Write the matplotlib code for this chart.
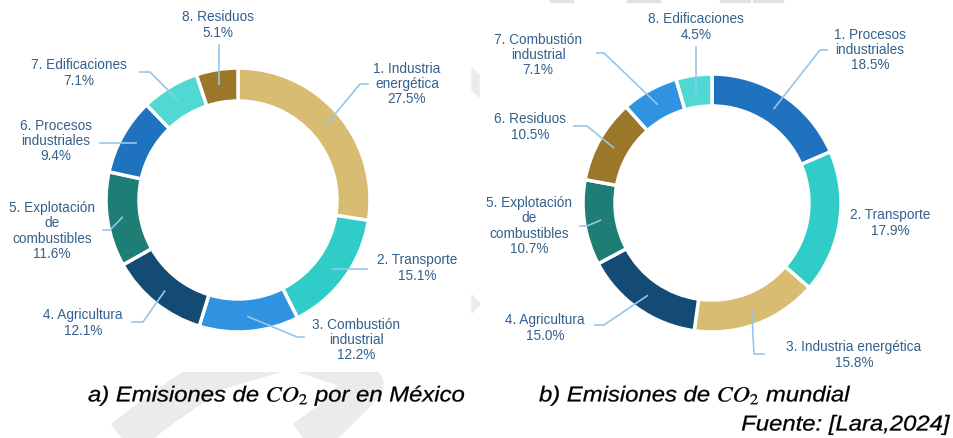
import numpy as np
import matplotlib.pyplot as plt
from matplotlib.textpath import TextPath
from matplotlib.font_manager import FontProperties
from matplotlib.patches import PathPatch, Polygon, Rectangle
from matplotlib.transforms import Affine2D

plt.rcParams['font.family'] = ['Liberation Sans', 'DejaVu Sans']
plt.rcParams['mathtext.fontset'] = 'stix'

W, H = 954, 438

# --- datos ---
mx_labels = ["1. Industria\nenergética", "2. Transporte", "3. Combustión\nindustrial",
             "4. Agricultura", "5. Explotación\nde\ncombustibles", "6. Procesos\nindustriales",
             "7. Edificaciones", "8. Residuos"]
mx_values = [27.5, 15.1, 12.2, 12.1, 11.6, 9.4, 7.1, 5.1]

wd_labels = ["1. Procesos\nindustriales", "2. Transporte", "3. Industria energética",
             "4. Agricultura", "5. Explotación\nde\ncombustibles", "6. Residuos",
             "7. Combustión\nindustrial", "8. Edificaciones"]
wd_values = [18.5, 17.9, 15.8, 15.0, 10.7, 10.5, 7.1, 4.5]

captions = [r"a) Emisiones de $CO_2$ por en México", r"b) Emisiones de $CO_2$ mundial",
            "Fuente: [Lara,2024]"]

tan, turq, blue, navy = "#D8BC72", "#30CDC8", "#2F93E2", "#134B74"
teal, mblue, lturq, brown = "#1E7D75", "#1F73BE", "#52D8D4", "#9B7729"
mx_colors = [tan, turq, blue, navy, teal, mblue, lturq, brown]
wd_colors = [mblue, turq, tan, navy, teal, brown, blue, lturq]

txt_color = "#34608C"
line_color = "#94C6EC"
wm_color = "#EBEBEB"

# posiciones (pixeles, y desde arriba): centro de texto, codo, extremo
mx_layout = [
    ((407, 84), (360, 84), 368),
    ((417, 268), None, 367),
    ((356, 340), (297, 337), 304),
    ((83, 323), (143, 322), 132),
    ((52, 231), (110, 230), 103),
    ((56, 141), None, 100),
    ((79, 73), (150, 72), 140),
    ((218, 25), None, None),
]
wd_layout = [
    ((870, 50), (820, 50), 827),
    ((890, 223), None, None),
    ((854, 355), (754, 354), 764),
    ((545, 328), (604, 325), 595),
    ((529, 226), (587, 226), 580),
    ((530, 127), (587, 126), 574),
    ((538, 55), (604, 53), 597),
    ((696, 27), None, None),
]

fig = plt.figure(figsize=(W / 100, H / 100), dpi=100)
ax = fig.add_axes([0, 0, 1, 1])

# --- marca de agua (restos grises de la pagina) ---
wm_x = [95, 160, 215, 290, 345, 365, 330, 275]
wm_y = [460, 410, 372, 350, 368, 385, 420, 460]
wm_line, = ax.plot(wm_x, [H - y for y in wm_y], color=wm_color, lw=27,
                   solid_joinstyle="round", solid_capstyle="butt", zorder=0)
wm_line.set_clip_path(Rectangle((0, 0), W, H - 372, transform=ax.transData))
ax.add_patch(Polygon([(472, H - 68), (479, H - 75), (479, H - 97), (472, H - 90)],
                     color=wm_color, zorder=0))
ax.add_patch(Polygon([(472, H - 295), (480, H - 304), (472, H - 313)], color=wm_color, zorder=0))
for x0, x1 in [(550, 573), (627, 660), (720, 750), (753, 783)]:
    ax.add_patch(Rectangle((x0, H - 2), x1 - x0, 2, color="#E2E2E2", zorder=0))


def donut(ax, values, colors, labels, layout, cx, cy, R, width, rlead):
    ax.pie(values, colors=colors, center=(cx, H - cy), radius=R, startangle=90,
           counterclock=False, wedgeprops=dict(width=width, edgecolor="white", linewidth=2.5))
    total = sum(values)
    cum = 0
    for v, lab, (tpos, elbow, xend) in zip(values, labels, layout):
        mid = (cum + v / 2) / total
        cum += v
        ang = np.deg2rad(90 - 360 * mid)
        px, py = cx + rlead * np.cos(ang), cy - rlead * np.sin(ang)
        pct = f"{v:.1f}%"
        ax.text(tpos[0], H - tpos[1], lab + "\n" + pct, ha="center", va="center",
                fontsize=9.8, color=txt_color, linespacing=1.12)
        if xend is None and elbow is None:
            if lab.startswith("8"):
                ax.plot([px, px], [H - py, H - (tpos[1] + 20)], color=line_color, lw=1.2)
            continue
        if elbow is None:
            ax.plot([px, xend], [H - py, H - py], color=line_color, lw=1.2)
        else:
            ax.plot([px, elbow[0], xend], [H - py, H - elbow[1], H - elbow[1]],
                    color=line_color, lw=1.2)


donut(ax, mx_values, mx_colors, mx_labels, mx_layout, 238, 200, 132, 33, 117)
donut(ax, wd_values, wd_colors, wd_labels, wd_layout, 712, 203, 129, 32, 113)

# textos de pie, algo ensanchados como en la figura original
prop = FontProperties(family="Liberation Sans", style="italic")


def stretched(s, x, baseline, ha="left", size=21.5, sx=1.11):
    tp = TextPath((0, 0), s, size=size, prop=prop)
    w = tp.get_extents().x1 * sx
    x0 = x if ha == "left" else x - w
    tr = Affine2D().scale(sx, 1).translate(x0, H - baseline)
    ax.add_patch(PathPatch(tr.transform_path(tp), facecolor="black",
                           edgecolor="black", lw=0.2))


stretched(captions[0], 88, 401.5)
stretched(captions[1], 539, 401.5)
stretched(captions[2], 950, 430.5, ha="right")

ax.set_xlim(0, W)
ax.set_ylim(0, H)
ax.set_aspect("equal")
ax.axis("off")

fig.savefig("out.png", dpi=100, facecolor="white")
